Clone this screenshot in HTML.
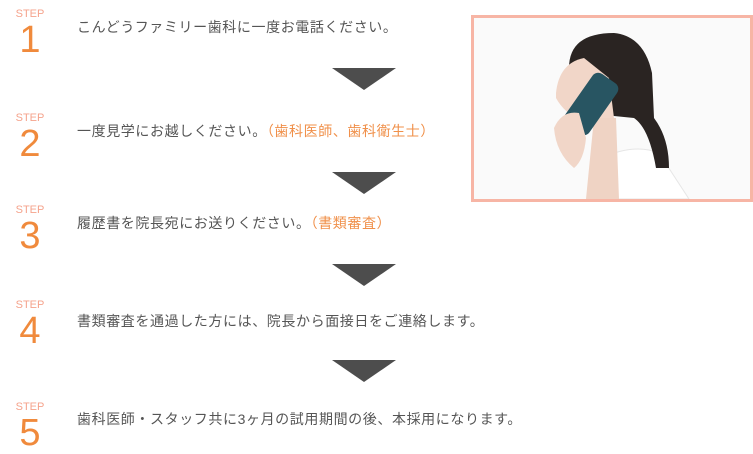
<!DOCTYPE html>
<html><head><meta charset="utf-8"><style>
body{margin:0;width:753px;height:453px;background:#fff;position:relative;overflow:hidden;font-family:"Liberation Sans","Noto Sans CJK JP",sans-serif}
.st{position:absolute;left:14px;width:32px;text-align:center;font-size:11px;color:#f5a38c;line-height:11px}
.n{position:absolute;left:14px;width:32px;text-align:center;font-size:38px;color:#f08a3c;line-height:38px;font-weight:300}
.t{position:absolute;left:77px;font-size:14px;color:#555;line-height:16px;white-space:nowrap;letter-spacing:0.6px}
.o{color:#f0904a}
.a{position:absolute;left:332px;width:0;height:0;border-left:32px solid transparent;border-right:32px solid transparent;border-top:22px solid #4d4d4d}
.ph{position:absolute;left:471px;top:15px;width:276px;height:181px;border:3px solid #f7b5a5;background:#fbfbfb;overflow:hidden}
</style></head><body>
<div class="st" style="top:9px">STEP</div><div class="n" style="top:21px">1</div>
<div class="t" style="top:19px">こんどうファミリー歯科に一度お電話ください。</div>
<div class="a" style="top:68px"></div>
<div class="st" style="top:113px">STEP</div><div class="n" style="top:125px">2</div>
<div class="t" style="top:123px">一度見学にお越しください。<span class="o">（歯科医師、歯科衛生士）</span></div>
<div class="a" style="top:172px"></div>
<div class="st" style="top:205px">STEP</div><div class="n" style="top:217px">3</div>
<div class="t" style="top:215px">履歴書を院長宛にお送りください。<span class="o">（書類審査）</span></div>
<div class="a" style="top:264px"></div>
<div class="st" style="top:300px">STEP</div><div class="n" style="top:312px">4</div>
<div class="t" style="top:313px">書類審査を通過した方には、院長から面接日をご連絡します。</div>
<div class="a" style="top:360px"></div>
<div class="st" style="top:402px">STEP</div><div class="n" style="top:414px">5</div>
<div class="t" style="top:411px">歯科医師・スタッフ共に3ヶ月の試用期間の後、本採用になります。</div>
<div class="ph"><svg width="276" height="181" viewBox="0 0 276 181">
<rect width="276" height="181" fill="#fafafa"/>
<path d="M120 181 L128 140 Q160 125 185 135 L215 181Z" fill="#fff" stroke="#e6e6e6"/>
<path d="M95 50 Q95 15 140 15 Q170 18 178 55 L180 100 Q195 120 195 150 L182 150 Q175 110 160 100 L110 95Z" fill="#2a2422"/>
<path d="M82 75 Q85 45 110 40 L135 60 L140 100 Q125 110 110 105 Q90 95 82 80Z" fill="#f1d6c8"/>
<path d="M120 100 L112 181 L145 181 L142 100Z" fill="#efd3c4"/>
<rect x="102" y="55" width="30" height="62" rx="7" fill="#285562" transform="rotate(35 117 86)"/>
<path d="M80 110 Q88 92 105 95 L112 120 Q110 142 100 150 Q82 135 80 110Z" fill="#f1d6c8"/>
</svg></div>
</body></html>
